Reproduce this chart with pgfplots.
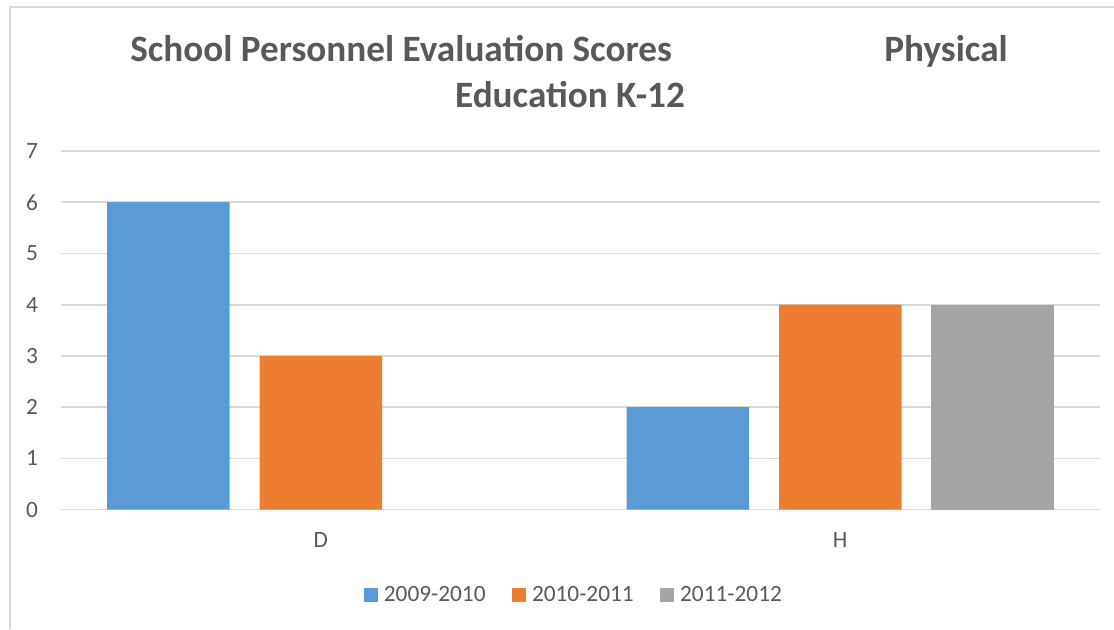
\documentclass[border=0pt]{standalone}
\usepackage{fontspec}
\setmainfont{Carlito}
\usepackage{pgfplots}
\pgfplotsset{compat=1.18}
\definecolor{cblue}{HTML}{5B9BD5}
\definecolor{corange}{HTML}{ED7D31}
\definecolor{cgray}{HTML}{A5A5A5}
\definecolor{txt}{HTML}{595959}
\definecolor{gridc}{HTML}{D9D9D9}
\begin{document}
\begin{tikzpicture}[x=0.75pt,y=0.75pt]
\path[use as bounding box] (0,0) rectangle (1114,629);
\draw[gridc, line width=1.3pt] (10,0) -- (10,622) -- (1114,622);
\node[anchor=base west, inner sep=0pt, text=txt, font=\fontsize{27.9}{32}\selectfont\bfseries] at (130,567) {School Personnel Evaluation Scores};
\node[anchor=base east, inner sep=0pt, text=txt, font=\fontsize{27.9}{32}\selectfont\bfseries] at (1008,567) {Physical};
\node[anchor=base, inner sep=0pt, text=txt, font=\fontsize{27.9}{32}\selectfont\bfseries] at (570,521) {Education K-12};
\begin{axis}[
  at={(45.75pt,89.5pt)}, anchor=south west,
  scale only axis,
  width=779.25pt, height=269pt,
  xmin=-0.5, xmax=1.5, ymin=0, ymax=7,
  xtick={0,1}, xticklabels={D,H},
  ytick={0,1,...,7},
  ymajorgrids, grid style={gridc, line width=1.2pt},
  axis line style={draw=none},
  major tick length=0pt,
  tick label style={text=txt, font=\fontsize{17.5}{20}\selectfont},
  /pgf/number format/assume math mode=true,
  yticklabel style={anchor=east, inner sep=0pt, xshift=-17pt},
  xticklabel style={anchor=north, inner sep=0pt, yshift=-17pt},
  ybar, bar width=0.2358,
  legend style={at={(axis description cs:0.4928,-0.2378)}, anchor=center, draw=none, fill=none,
    font=\fontsize{17.5}{20}\selectfont, text=txt, legend columns=3,
    /tikz/every odd column/.append style={column sep=4.3pt},
    /tikz/every even column/.append style={column sep=20pt},
    nodes={inner sep=0pt}},
  legend image code/.code={\fill[#1] (0pt,-5.25pt) rectangle (10.5pt,5.25pt);},
  legend cell align=left,
]
\addplot[fill=cblue, draw=none, bar shift=-0.2935] coordinates {(0,6) (1,2)};
\addplot[fill=corange, draw=none, bar shift=0] coordinates {(0,3) (1,4)};
\addplot[fill=cgray, draw=none, bar shift=0.2935] coordinates {(1,4)};
\legend{2009-2010,2010-2011,2011-2012}
\end{axis}
\end{tikzpicture}
\end{document}
